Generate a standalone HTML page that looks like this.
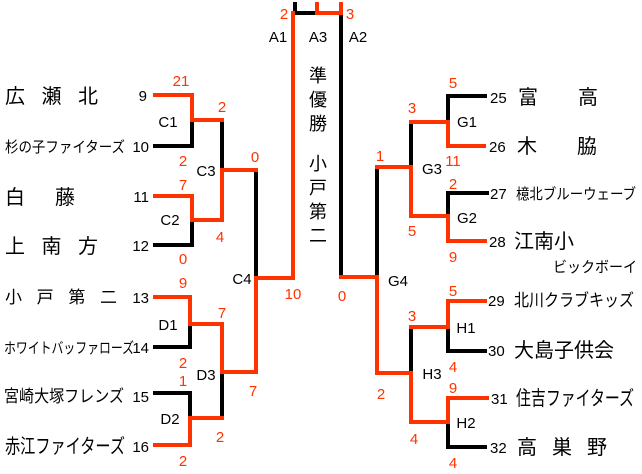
<!DOCTYPE html>
<html><head><meta charset="utf-8"><style>
html,body{margin:0;padding:0;background:#fff;width:642px;height:474px;overflow:hidden}
svg{display:block}
text{font-family:"Liberation Sans","Noto Sans CJK JP",sans-serif}
.s{fill:#ff3300;font-size:15px;text-anchor:middle}
.m{fill:#000;font-size:15px;text-anchor:middle}
.n{fill:#000;font-size:15px}
.b{fill:#000;font-size:20px}
.k{fill:#000;font-size:15px}
</style></head><body>
<svg width="642" height="474" viewBox="0 0 642 474" xmlns="http://www.w3.org/2000/svg">
<g fill="none" stroke-width="4" stroke-linecap="square">
<g stroke="#000">
<polyline points="295,4 295,13 317,13"/>
<line x1="341" y1="13" x2="341" y2="277"/>
<polyline points="155,146 192,146 192,120"/>
<line x1="222" y1="120" x2="222" y2="170"/>
<polyline points="155,245 192,245 192,220"/>
<line x1="256" y1="170" x2="256" y2="278"/>
<polyline points="155,347 190,347 190,324"/>
<line x1="222" y1="372" x2="222" y2="418"/>
<polyline points="155,393 190,393 190,418"/>
<line x1="377" y1="167" x2="377" y2="277"/>
<line x1="411" y1="122" x2="411" y2="167"/>
<polyline points="485,96 448,96 448,122"/>
<polyline points="487,193 448,193 448,216"/>
<line x1="411" y1="327" x2="411" y2="373"/>
<polyline points="485,351 448,351 448,327"/>
<polyline points="485,447 448,447 448,422"/>
</g>
<g stroke="#ff3300">
<polyline points="317,4 317,13 341,13 341,4"/>
<line x1="293" y1="13" x2="293" y2="278"/>
<polyline points="155,95 192,95 192,120 222,120"/>
<polyline points="155,196 192,196 192,220 222,220 222,170 256,170"/>
<polyline points="256,278 293,278"/>
<polyline points="155,297 190,297 190,324 222,324 222,372 256,372 256,278"/>
<polyline points="155,445 190,445 190,418 222,418"/>
<polyline points="341,277 377,277 377,373 411,373"/>
<polyline points="377,167 411,167 411,216 448,216 448,241 485,241"/>
<polyline points="411,122 448,122 448,146 484,146"/>
<polyline points="485,301 448,301 448,327 411,327"/>
<polyline points="411,373 411,422 448,422 448,398 487,398"/>
</g>
</g>
<g class="s">
<text x="284" y="19" class="s">2</text><text x="350" y="19" class="s">3</text>
<text x="181" y="86">21</text><text x="183" y="166">2</text><text x="222" y="112">2</text>
<text x="183" y="190">7</text><text x="220" y="242">4</text><text x="183" y="264">0</text>
<text x="255" y="162">0</text><text x="293" y="299">10</text>
<text x="183" y="288">9</text><text x="222" y="318">7</text><text x="183" y="368">2</text>
<text x="183" y="386">1</text><text x="253" y="396">7</text><text x="220" y="442">2</text><text x="183" y="466">2</text>
<text x="453" y="88">5</text><text x="412" y="113">3</text><text x="380" y="161">1</text>
<text x="453" y="166">11</text><text x="453" y="189">2</text><text x="412" y="236">5</text><text x="453" y="262">9</text>
<text x="342" y="301">0</text><text x="453" y="296">5</text><text x="412" y="321">3</text><text x="453" y="372">4</text>
<text x="381" y="399">2</text><text x="453" y="393">9</text><text x="414" y="444">4</text><text x="453" y="468">4</text>
</g>
<g class="m">
<text x="278" y="42">A1</text><text x="318" y="42">A3</text><text x="358" y="42">A2</text>
<text x="168" y="127">C1</text><text x="206" y="176">C3</text><text x="170" y="225">C2</text><text x="242" y="284">C4</text>
<text x="168" y="330">D1</text><text x="206" y="380">D3</text><text x="170" y="424">D2</text>
<text x="467" y="127">G1</text><text x="432" y="174">G3</text><text x="467" y="223">G2</text><text x="398" y="286">G4</text>
<text x="466" y="333">H1</text><text x="432" y="379">H3</text><text x="466" y="428">H2</text>
</g>
<g style="font-size:18px;text-anchor:middle" fill="#000">
<text x="318" y="82">準</text><text x="318" y="106">優</text><text x="318" y="130">勝</text>
<text x="318" y="170">小</text><text x="318" y="194">戸</text><text x="318" y="218">第</text><text x="318" y="242">二</text>
</g>
<g class="n" text-anchor="end">
<text x="147" y="101">9</text><text x="149" y="152">10</text><text x="149" y="202">11</text><text x="149" y="251">12</text>
<text x="149" y="303">13</text><text x="149" y="353">14</text><text x="149" y="402">15</text><text x="149" y="452">16</text>
</g>
<text class="b" x="5" y="103" textLength="93">広 瀬 北</text>
<text class="k" x="5" y="152" textLength="120" lengthAdjust="spacingAndGlyphs">杉の子ファイターズ</text>
<text class="b" x="5" y="204" textLength="70">白　 藤</text>
<text class="b" x="5" y="253" textLength="93">上 南 方</text>
<text class="k" style="font-size:17px" x="5" y="303" textLength="112">小 戸 第 二</text>
<text class="k" x="4" y="353" textLength="130" lengthAdjust="spacingAndGlyphs">ホワイトバッファローズ</text>
<text class="k" style="font-size:17px" x="4" y="402" textLength="120" lengthAdjust="spacingAndGlyphs">宮崎大塚フレンズ</text>
<text class="b" x="5" y="453" textLength="120" lengthAdjust="spacingAndGlyphs">赤江ファイターズ</text>
<g class="n">
<text x="490" y="103">25</text><text x="489" y="152">26</text><text x="490" y="199">27</text><text x="489" y="247">28</text>
<text x="488" y="306">29</text><text x="488" y="356">30</text><text x="491" y="404">31</text><text x="490" y="453">32</text>
</g>
<text class="b" x="518" y="104" textLength="80">富　 高</text>
<text class="b" x="517" y="153" textLength="80">木　 脇</text>
<text class="k" x="516" y="199" textLength="120" lengthAdjust="spacingAndGlyphs">檍北ブルーウェーブ</text>
<text class="b" x="514" y="248">江南小</text>
<text class="k" x="553" y="272" textLength="84" lengthAdjust="spacingAndGlyphs">ビックボーイ</text>
<text class="k" style="font-size:17px" x="514" y="306" textLength="120" lengthAdjust="spacingAndGlyphs">北川クラブキッズ</text>
<text class="b" x="514" y="357">大島子供会</text>
<text class="b" x="516" y="405" textLength="118" lengthAdjust="spacingAndGlyphs">住吉ファイターズ</text>
<text class="b" x="517" y="454" textLength="90">高 巣 野</text>
</svg>
</body></html>
